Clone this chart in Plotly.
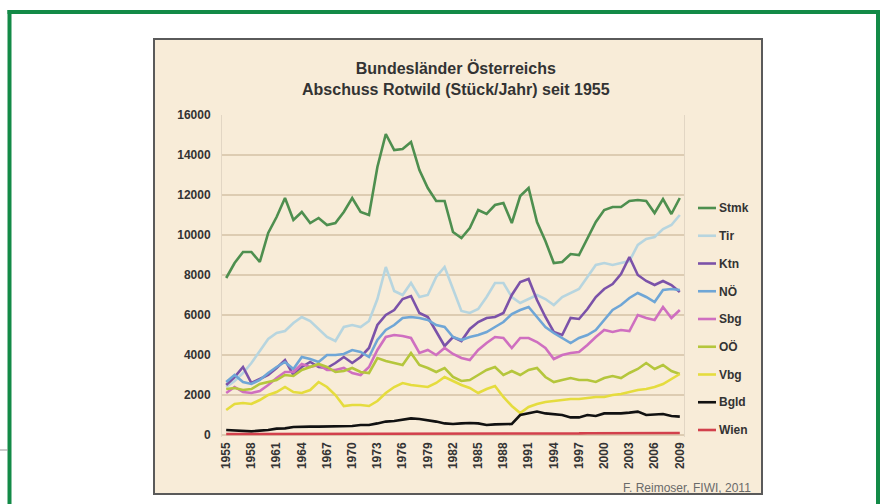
import plotly.graph_objects as go

# -------------------------------------------------
# Data (Abschuss Rotwild, Stück/Jahr)
# -------------------------------------------------

years = list(range(1955, 2010))

stmk = [7850, 8600, 9150, 9150, 8650, 10100, 10900, 11850, 10750, 11150,
        10600, 10850, 10500, 10600, 11150, 11850, 11150, 11000, 13400, 15050,
        14250, 14300, 14650, 13250, 12350, 11700, 11700, 10150, 9850, 10350,
        11250, 11050, 11500, 11600, 10600, 11950, 12350, 10650, 9700, 8600,
        8650, 9050, 9000, 9850, 10650, 11250, 11400, 11400, 11700, 11750,
        11700, 11100, 11800, 11050, 11850]

tir = [2400, 2700, 3100, 3600, 4200, 4800, 5100, 5200, 5600, 5900,
       5700, 5300, 4900, 4700, 5400, 5500, 5400, 5700, 6800, 8400,
       7200, 7000, 7600, 6900, 7000, 7900, 8400, 7300, 6200, 6100,
       6300, 6900, 7600, 7600, 6900, 6600, 6800, 7000, 6800, 6500,
       6900, 7100, 7300, 7900, 8500, 8600, 8500, 8600, 8700, 9500,
       9800, 9900, 10300, 10500, 11000]

ktn = [2500, 2900, 3400, 2600, 2800, 3000, 3350, 3750, 3000, 3400,
       3650, 3400, 3350, 3600, 3900, 3600, 3900, 4350, 5500, 6000,
       6250, 6800, 6950, 6100, 5900, 5200, 4450, 4900, 4700, 5300,
       5650, 5850, 5900, 6100, 7000, 7650, 7800, 6750, 5900, 5150,
       5000, 5850, 5800, 6300, 6900, 7300, 7550, 8050, 8900, 8000,
       7700, 7500, 7700, 7500, 7150]

noe = [2650, 3000, 2650, 2550, 2750, 3100, 3400, 3650, 3300, 3900,
       3800, 3650, 4000, 4000, 4050, 4250, 4150, 3900, 4750, 5250,
       5500, 5850, 5900, 5850, 5750, 5500, 5400, 4900, 4750, 4900,
       5000, 5150, 5400, 5650, 6050, 6250, 6400, 5900, 5400, 5100,
       4850, 4600, 4850, 5000, 5250, 5750, 6250, 6500, 6850, 7100,
       6900, 6650, 7250, 7300, 7250]

sbg = [2100, 2400, 2150, 2100, 2200, 2500, 2850, 3150, 3150, 3550,
       3400, 3500, 3250, 3250, 3350, 3100, 3000, 3400, 4250, 4900,
       5000, 4950, 4850, 4100, 4250, 4000, 4350, 4050, 3850, 3750,
       4250, 4600, 4900, 4850, 4350, 4850, 4850, 4650, 4350, 3800,
       4000, 4100, 4150, 4500, 4900, 5250, 5150, 5250, 5200, 6000,
       5850, 5750, 6400, 5850, 6250]

ooe = [2300, 2350, 2250, 2300, 2550, 2650, 2750, 3000, 2950, 3250,
       3400, 3550, 3400, 3150, 3200, 3350, 3150, 3100, 3850, 3700,
       3600, 3500, 4100, 3500, 3350, 3150, 3350, 2900, 2700, 2750,
       3000, 3250, 3400, 3000, 3200, 3000, 3250, 3350, 2900, 2650,
       2750, 2850, 2750, 2750, 2650, 2850, 2950, 2850, 3100, 3300,
       3600, 3300, 3500, 3200, 3050]

vbg = [1250, 1550, 1600, 1550, 1750, 2000, 2150, 2400, 2150, 2100,
       2250, 2650, 2400, 2000, 1450, 1500, 1500, 1450, 1700, 2100,
       2400, 2600, 2500, 2450, 2400, 2600, 2900, 2700, 2500, 2350,
       2100, 2300, 2450, 1900, 1450, 1100, 1400, 1550, 1650, 1700,
       1750, 1800, 1800, 1850, 1900, 1900, 2000, 2050, 2150, 2250,
       2300, 2400, 2550, 2800, 3050]

bgld = [250, 220, 200, 180, 220, 250, 320, 330, 400, 420,
        420, 420, 420, 430, 420, 450, 500, 500, 580, 670,
        700, 750, 830, 800, 750, 670, 580, 550, 580, 600,
        580, 500, 530, 550, 550, 1000, 1080, 1170, 1080, 1050,
        1000, 880, 880, 1000, 950, 1080, 1080, 1080, 1120, 1170,
        1000, 1030, 1050, 950, 920]

wien = [50, 50, 50, 50, 50, 50, 50, 50, 60, 60,
        60, 60, 60, 60, 60, 60, 60, 60, 70, 70,
        70, 70, 70, 70, 70, 70, 70, 70, 70, 70,
        70, 70, 70, 80, 80, 80, 80, 80, 80, 80,
        80, 80, 80, 90, 90, 90, 90, 90, 100, 100,
        100, 100, 100, 100, 100]

series = [
    ("Stmk", stmk, "#4e8f4f"),
    ("Tir", tir, "#b7d5df"),
    ("Ktn", ktn, "#7b52a9"),
    ("NÖ", noe, "#6fa6d6"),
    ("Sbg", sbg, "#cf6fc0"),
    ("OÖ", ooe, "#b5c63c"),
    ("Vbg", vbg, "#e5dc3e"),
    ("Bgld", bgld, "#111111"),
    ("Wien", wien, "#d2404c"),
]

y_ticks = list(range(0, 16001, 2000))
x_ticks = list(range(1955, 2010, 3))

# -------------------------------------------------
# Pixel helpers (plot area in pixels)
# -------------------------------------------------

PL, PR, PT, PB = 222, 684, 115, 437


def px_x(x):
    return (x - PL) / (PR - PL)


def px_y(y):
    return (PB - y) / (PB - PT)


fig = go.Figure()

for name, values, color in series:
    fig.add_trace(go.Scatter(
        x=years,
        y=values,
        mode="lines",
        name=name,
        line=dict(color=color, width=2.6),
        showlegend=False
    ))

shapes = []
annotations = []

# chart panel
shapes.append(dict(
    type="rect", xref="paper", yref="paper", layer="below",
    x0=px_x(154), x1=px_x(762), y0=px_y(494), y1=px_y(39),
    fillcolor="#f8ecd8", line=dict(color="#5a5a5a", width=2)
))

# green outer frame
frame = dict(color="#138a47", width=4)
shapes.append(dict(type="line", xref="paper", yref="paper",
                   x0=px_x(9.5), x1=px_x(9.5), y0=px_y(10), y1=px_y(520), line=frame))
shapes.append(dict(type="line", xref="paper", yref="paper",
                   x0=px_x(7.5), x1=px_x(880), y0=px_y(12), y1=px_y(12), line=frame))
shapes.append(dict(type="line", xref="paper", yref="paper",
                   x0=px_x(878), x1=px_x(878), y0=px_y(10), y1=px_y(520), line=frame))
shapes.append(dict(type="line", xref="paper", yref="paper",
                   x0=px_x(0), x1=px_x(8), y0=px_y(450), y1=px_y(450),
                   line=dict(color="#999999", width=1)))

# legend (manual, to match the short line samples)
for i, (name, values, color) in enumerate(series):
    ly = 208 + i * 27.75
    shapes.append(dict(type="line", xref="paper", yref="paper",
                       x0=px_x(698), x1=px_x(716), y0=px_y(ly), y1=px_y(ly),
                       line=dict(color=color, width=2.6)))
    annotations.append(dict(
        xref="paper", yref="paper", x=px_x(717), y=px_y(ly),
        xanchor="left", yanchor="middle", showarrow=False,
        text="<b>%s</b>" % name,
        font=dict(family="Arial", size=12, color="#333333")
    ))

annotations.append(dict(
    xref="paper", yref="paper", x=px_x(456), y=px_y(78),
    xanchor="center", yanchor="middle", showarrow=False,
    text="<b>Bundesländer Österreichs</b><br><b>Abschuss Rotwild (Stück/Jahr) seit 1955</b>",
    font=dict(family="Arial", size=16, color="#333333")
))

annotations.append(dict(
    xref="paper", yref="paper", x=px_x(753), y=px_y(488),
    xanchor="right", yanchor="middle", showarrow=False,
    text="F. Reimoser, FIWI, 2011",
    font=dict(family="Arial", size=12, color="#6a6a6a")
))

fig.update_layout(
    width=880,
    height=504,
    margin=dict(l=PL, r=880 - PR, t=PT, b=504 - PB),
    paper_bgcolor="white",
    plot_bgcolor="rgba(0,0,0,0)",
    shapes=shapes,
    annotations=annotations,
    showlegend=False
)

fig.update_xaxes(
    range=[1954.5, 2009.5],
    tickvals=x_ticks,
    tickformat="d",
    tickangle=-90,
    tickfont=dict(family="Arial", size=12, color="#333333", weight="bold"),
    showgrid=False,
    zeroline=False,
    showline=False,
    ticklabelstandoff=2
)

fig.update_yaxes(
    range=[-100, 16000],
    tickvals=y_ticks,
    tickformat="d",
    tickfont=dict(family="Arial", size=12, color="#333333", weight="bold"),
    showgrid=True,
    gridcolor="#ddccb2",
    gridwidth=1.5,
    zeroline=False,
    showline=True,
    linecolor="#e2d6c4",
    mirror=True,
    ticklabelstandoff=8
)

# the page body has a default margin; remove it so the figure sits at 0,0
fig.write_html(
    "out.html",
    config={"displayModeBar": False},
    post_script="document.body.style.margin='0';"
)
